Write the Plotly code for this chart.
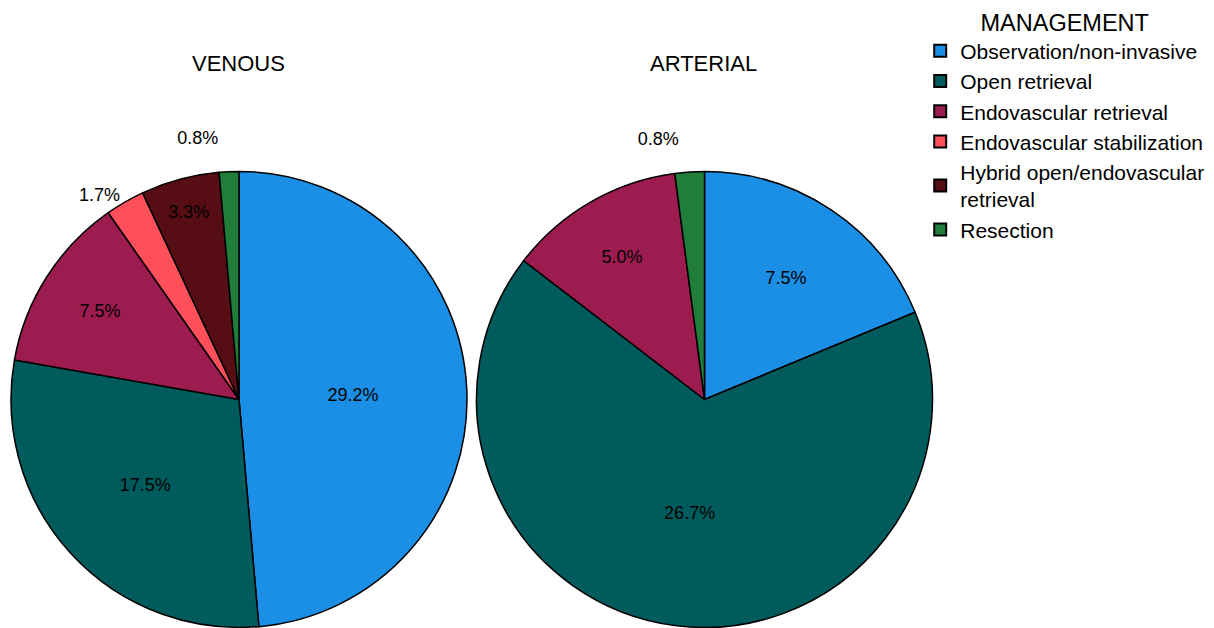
import plotly.graph_objects as go

categories = ["Observation/non-invasive", "Open retrieval", "Endovascular retrieval",
              "Endovascular stabilization", "Hybrid open/endovascular<br>retrieval", "Resection"]
colors = ["#1B8FE6", "#005C5C", "#9C1C4F", "#FE4F5A", "#560E14", "#217E3A"]

venous_counts = [35, 21, 9, 2, 4, 1]
arterial_counts = [9, 32, 6, 0, 0, 1]

total = sum(venous_counts) + sum(arterial_counts)

def pct(vals, lift):
    out = []
    for v, l in zip(vals, lift):
        s = f"{v / total * 100:.1f}%"
        # lifted outside labels sit a little further from the rim, as in the reference
        out.append(s + "<br>\u00a0" if l else s)
    return out

def keep(vals):
    return [i for i, v in enumerate(vals) if v > 0]

FONT = "Liberation Sans, Arial, Helvetica, sans-serif"
W, H = 1214, 633
HE = 628  # effective drawing height in the viewer

fig = go.Figure()

vi = keep(venous_counts)
vpos = ["inside", "inside", "inside", "outside", "inside", "outside"]
vlift = [False, False, False, False, False, True]
fig.add_trace(go.Pie(
    labels=[categories[i] for i in vi],
    values=[venous_counts[i] for i in vi],
    text=pct([venous_counts[i] for i in vi], vlift),
    textinfo="text",
    textposition=vpos,
    insidetextorientation="horizontal",
    marker=dict(colors=[colors[i] for i in vi], line=dict(color="black", width=1.5)),
    sort=False, direction="clockwise", rotation=0,
    domain=dict(x=[11 / W, 467 / W], y=[0, 457 / HE]),
    textfont=dict(family=FONT, size=18, color="black"),
    hoverinfo="label+value",
    name="VENOUS",
))

ai = keep(arterial_counts)
apos = ["inside", "inside", "inside", "outside"]
alift = [False, False, False, True]
fig.add_trace(go.Pie(
    labels=[categories[i] for i in ai],
    values=[arterial_counts[i] for i in ai],
    text=pct([arterial_counts[i] for i in ai], alift),
    textinfo="text",
    textposition=apos,
    insidetextorientation="horizontal",
    marker=dict(colors=[colors[i] for i in ai], line=dict(color="black", width=1.5)),
    sort=False, direction="clockwise", rotation=0,
    domain=dict(x=[476.5 / W, 932.5 / W], y=[0, 457 / HE]),
    textfont=dict(family=FONT, size=18, color="black"),
    hoverinfo="label+value",
    showlegend=False,
    name="ARTERIAL",
))

fig.update_layout(
    width=W, height=H,
    margin=dict(l=0, r=0, t=0, b=0),
    paper_bgcolor="white",
    font=dict(family=FONT, color="black"),
    legend=dict(
        title=dict(text="MANAGEMENT", side="top center", font=dict(size=23.5)),
        font=dict(size=21),
        x=0.758, y=1, xanchor="left", yanchor="top",
        tracegroupgap=0, itemsizing="constant",
    ),
    annotations=[
        dict(text="VENOUS", x=238 / W, y=1 - 64 / HE, xref="paper", yref="paper",
             showarrow=False, font=dict(size=22), xanchor="center", yanchor="middle"),
        dict(text="ARTERIAL", x=703 / W, y=1 - 64 / HE, xref="paper", yref="paper",
             showarrow=False, font=dict(size=22), xanchor="center", yanchor="middle"),
    ],
)

fig.write_html("out.html")
